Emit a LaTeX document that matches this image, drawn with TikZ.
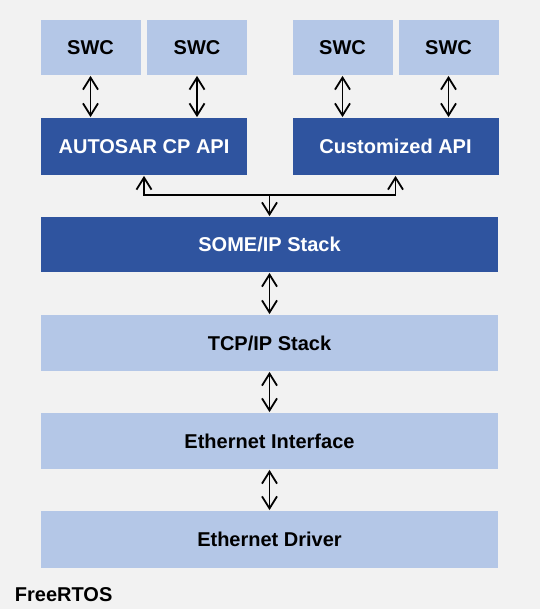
\documentclass[tikz,border=0pt]{standalone}
\usepackage{fontspec}
\setmainfont{Liberation Sans}
\usetikzlibrary{arrows.meta}
\definecolor{apiblue}{HTML}{2F549F}
\definecolor{layerblue}{HTML}{B4C7E7}
\definecolor{bggray}{HTML}{F2F2F2}
\tikzset{
    layer/.style={fill=layerblue, minimum width=457pt, minimum height=56pt, inner sep=0pt, font=\fontsize{20}{24}\selectfont\bfseries},
    apibox/.style={layer, fill=apiblue, text=white, minimum width=206pt, minimum height=57pt},
    swcbox/.style={layer, minimum width=100pt, minimum height=55pt},
    barb/.style={line width=1.8pt, >={Straight Barb[length=12pt,width=15pt]}}
}
\begin{document}
\begin{tikzpicture}[x=1pt, y=-1pt, barb]
        \fill[bggray] (0,0) rectangle (540,609);
        \node[swcbox] (swcA) at (90.5,47.5) {SWC};
        \node[swcbox] (swcB) at (197,47.5) {SWC};
        \node[swcbox] (swcC) at (342.5,47.5) {SWC};
        \node[swcbox] (swcD) at (448.5,47.5) {SWC};
        \node[apibox] (cpapi) at (144,146.5) {AUTOSAR CP API};
        \node[apibox] (custapi) at (395.5,146.5) {Customized API};
        \node[layer, fill=apiblue, text=white, minimum height=55pt] (someip) at (269.5,244.5) {SOME/IP Stack};
        \node[layer] (tcpip) at (269.5,343) {TCP/IP Stack};
        \node[layer] (ethif) at (269.5,441) {Ethernet Interface};
        \node[layer, minimum height=57pt] (ethdrv) at (269.5,539.5) {Ethernet Driver};
        \node[anchor=base west, inner sep=0pt, font=\fontsize{20}{24}\selectfont\bfseries] (rtos) at (14,601) {FreeRTOS};
        \draw[<->] (swcA) -- (swcA |- cpapi.north);
        \draw[<->] (swcB) -- (swcB |- cpapi.north);
        \draw[<->] (swcC) -- (swcC |- custapi.north);
        \draw[<->] (swcD) -- (swcD |- custapi.north);
        \coordinate (bus) at (269.5,195);
        \draw[->] (bus) -| (cpapi.south);
        \draw[->] (bus) -| (custapi.south);
        \draw[->] (bus) -- (someip.north);
        \draw[<->] (someip) -- (tcpip);
        \draw[<->] (tcpip) -- (ethif);
        \draw[<->] (ethif) -- (ethdrv);
    \end{tikzpicture}
\end{document}
